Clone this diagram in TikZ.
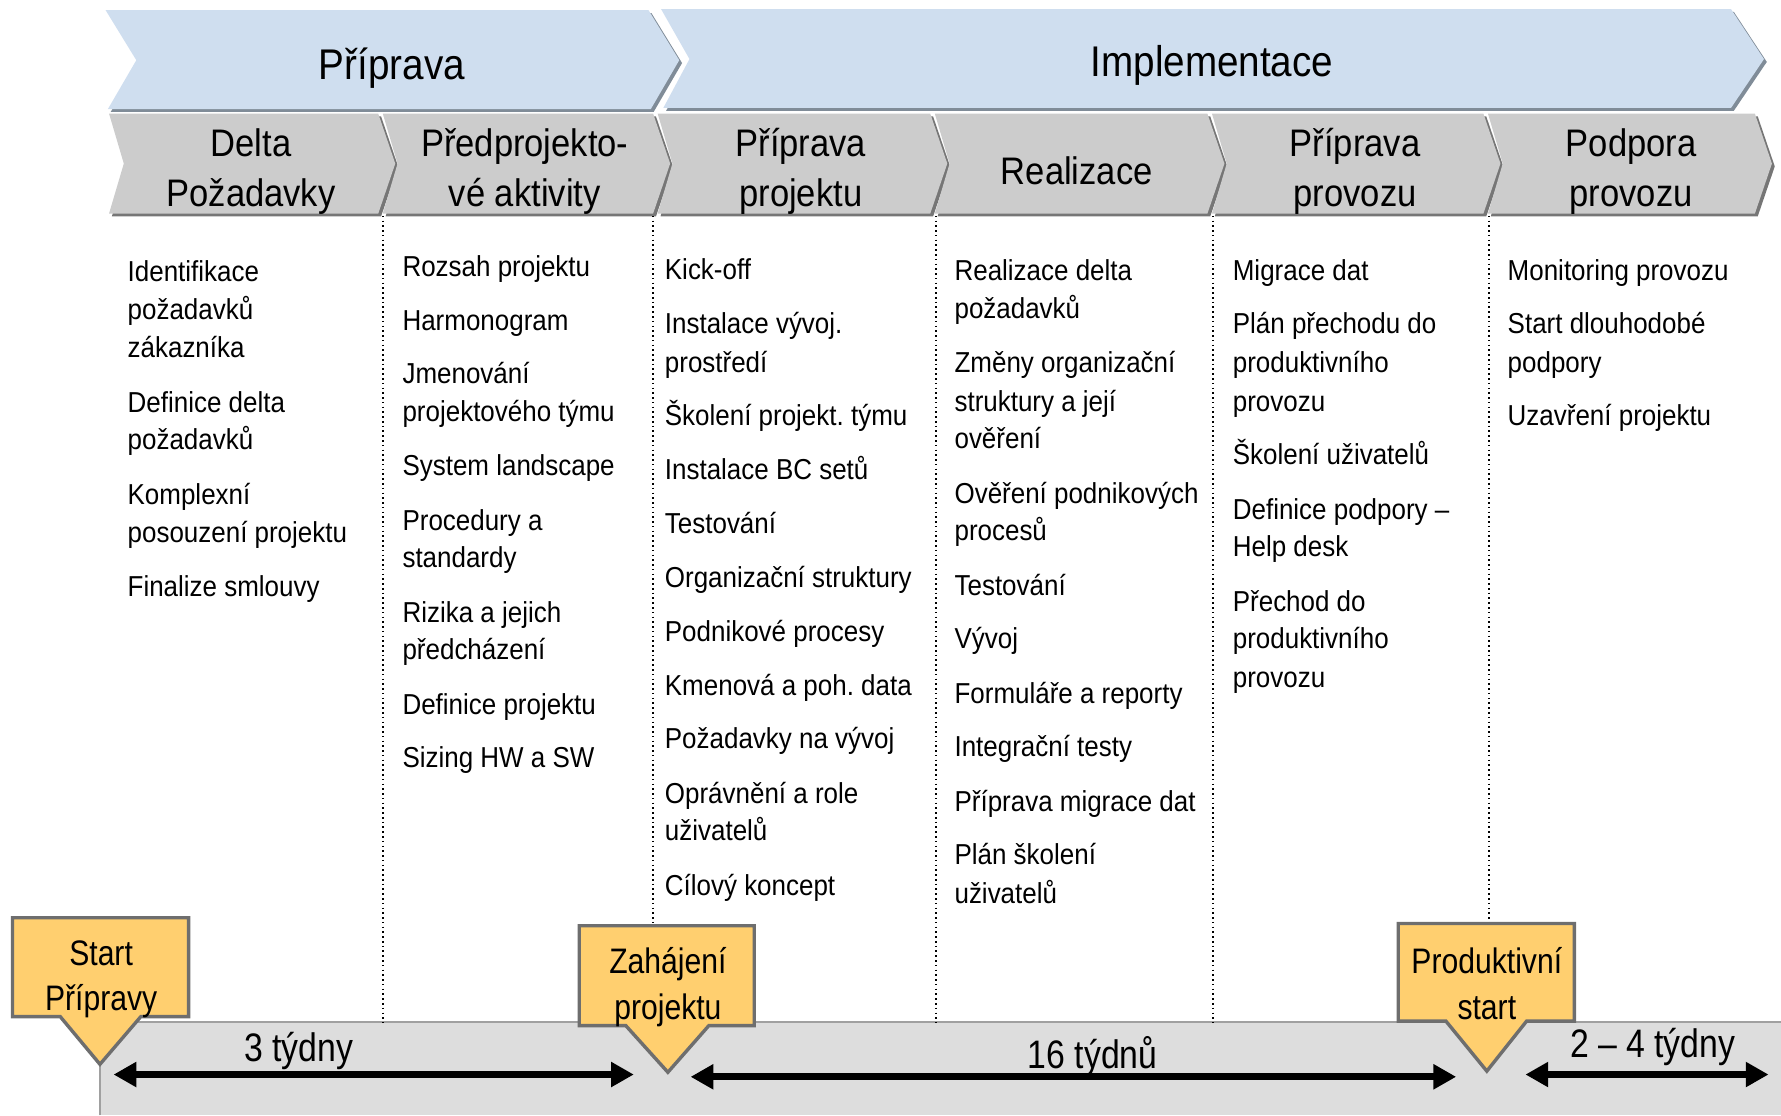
\documentclass[tikz,border=0pt]{standalone}
\usepackage{fontspec}
\setmainfont{Liberation Sans}[FakeStretch=0.9]
\newfontfamily\condfont{Liberation Sans}[FakeStretch=0.85]
\usetikzlibrary{arrows.meta}
\frenchspacing
\definecolor{hdrblue}{RGB}{207,222,239}
\definecolor{hdrshadow}{RGB}{128,140,152}
\definecolor{phasegray}{RGB}{204,204,204}
\definecolor{phaseshadow}{RGB}{118,118,118}
\definecolor{bandgray}{RGB}{221,221,221}
\definecolor{bandline}{RGB}{160,160,160}
\definecolor{msyellow}{RGB}{255,207,111}
\definecolor{msborder}{RGB}{110,110,110}
\newcommand\phasechev[2]{%
  \fill[phaseshadow] ([shift={(2.5,2.5)}]#1,100) -- ([shift={(2.5,2.5)}]#2,100) -- ([shift={(2.5,2.5)}]#2+15,144) -- ([shift={(2.5,2.5)}]#2,188) -- ([shift={(2.5,2.5)}]#1,188) -- ([shift={(2.5,2.5)}]#1+13,144) -- cycle;
  \fill[phasegray] (#1,100) -- (#2,100) -- (#2+15,144) -- (#2,188) -- (#1,188) -- (#1+13,144) -- cycle;}
\begin{document}
\begin{tikzpicture}[x=0.5pt,y=-0.5pt,
  itemtext/.style={anchor=base west, inner sep=0pt, font=\fontsize{12.7}{17}\selectfont},
  phasetext/.style={align=center, inner sep=0pt, font=\fontsize{16.9}{22}\selectfont},
  titletext/.style={inner sep=0pt, font=\fontsize{18.9}{22}\selectfont},
  mstext/.style={align=center, inner sep=0pt, font=\condfont\fontsize{15.6}{20}\selectfont},
  durtext/.style={inner sep=0pt, font=\condfont\fontsize{17.5}{20}\selectfont},
  sepline/.style={line width=0.7pt, dash pattern=on 0.7pt off 1.4pt},
  durarrow/.style={line width=3.2pt, {Triangle[length=10pt,width=10.5pt]}-{Triangle[length=10pt,width=10.5pt]}},
  msbox/.style={fill=msyellow, draw=msborder, line width=1.5pt, line join=miter},
]
\useasboundingbox (0,0) rectangle (1568,982);

% bottom band
\fill[bandgray] (88,900) rectangle (1568,982);
\draw[bandline, line width=0.8pt] (88,982) -- (88,900) -- (1568,900);

% top blue chevrons
\fill[hdrshadow] (95.5,11.5) -- (573.5,11.5) -- (600.5,55.5) -- (575.5,98.5) -- (97.5,98.5) -- (122.5,55.5) -- cycle;
\fill[hdrblue] (93,9) -- (571,9) -- (598,53) -- (573,96) -- (95,96) -- (120,53) -- cycle;
\fill[hdrshadow] (584.5,10.5) -- (1526.5,10.5) -- (1555.5,54.5) -- (1526.5,97.5) -- (586.5,97.5) -- (609.5,54.5) -- cycle;
\fill[hdrblue] (582,8) -- (1524,8) -- (1553,52) -- (1524,95) -- (584,95) -- (607,52) -- cycle;
\node[titletext] (tprip) at (345,60) {Příprava};
\node[titletext] (timpl) at (1067,58) {Implementace};

% phase chevrons
\phasechev{96}{333}
\phasechev{337}{575}
\phasechev{579}{819}
\phasechev{823}{1063}
\phasechev{1067}{1306}
\phasechev{1310}{1545}
\node[phasetext] (p1) at (221,151) {Delta\\Požadavky};
\node[phasetext] (p2) at (462,151) {Předprojekto-\\vé aktivity};
\node[phasetext] (p3) at (705,151) {Příprava\\projektu};
\node[phasetext] (p4) at (948,150) {Realizace};
\node[phasetext] (p5) at (1193,151) {Příprava\\provozu};
\node[phasetext] (p6) at (1436,151) {Podpora\\provozu};

% separators
\draw[sepline] (337,190) -- (337,900);
\draw[sepline] (575,190) -- (575,815);
\draw[sepline] (824,190) -- (824,900);
\draw[sepline] (1068,190) -- (1068,900);
\draw[sepline] (1311,190) -- (1311,813);

% activity lists
\foreach \yy/\tt [count=\i] in {240/Identifikace,273/požadavků,307/zákazníka,355/Definice delta,388/požadavků,436/Komplexní,470/posouzení projektu,517/Finalize smlouvy}
  \node[itemtext] (ca\i) at (112,{\yy+8}) {\tt};
\foreach \yy/\tt [count=\i] in {235/Rozsah projektu,283/Harmonogram,330/Jmenování,363/projektového týmu,411/System landscape,459/Procedury a,492/standardy,540/Rizika a jejich,573/předcházení,621/Definice projektu,668/Sizing HW a SW}
  \node[itemtext] (cb\i) at (354,{\yy+8}) {\tt};
\foreach \yy/\tt [count=\i] in {238/Kick-off,286/Instalace vývoj.,320/prostředí,367/Školení projekt. týmu,414/Instalace BC setů,462/Testování,509/Organizační struktury,557/Podnikové procesy,604/Kmenová a poh. data,651/Požadavky na vývoj,699/Oprávnění a role,732/uživatelů,780/Cílový koncept}
  \node[itemtext] (cc\i) at (585,{\yy+8}) {\tt};
\foreach \yy/\tt [count=\i] in {239/Realizace delta,272/požadavků,320/Změny organizační,354/struktury a její,387/ověření,435/Ověření podnikových,468/procesů,516/Testování,563/Vývoj,611/Formuláře a reporty,658/Integrační testy,706/Příprava migrace dat,753/Plán školení,787/uživatelů}
  \node[itemtext] (cd\i) at (840,{\yy+8}) {\tt};
\foreach \yy/\tt [count=\i] in {239/Migrace dat,286/Plán přechodu do,320/produktivního,354/provozu,401/Školení uživatelů,449/Definice podpory –,482/Help desk,530/Přechod do,563/produktivního,597/provozu}
  \node[itemtext] (ce\i) at (1085,{\yy+8}) {\tt};
\foreach \yy/\tt [count=\i] in {239/Monitoring provozu,286/Start dlouhodobé,320/podpory,367/Uzavření projektu}
  \node[itemtext] (cf\i) at (1327,{\yy+8}) {\tt};

% milestones
\draw[msbox] (11,808) -- (166,808) -- (166,895) -- (124,895) -- (88,937) -- (53,895) -- (11,895) -- cycle;
\node[mstext] (ms1) at (89,862) {Start\\Přípravy};
\draw[msbox] (510,815) -- (664,815) -- (664,903) -- (624,903) -- (588,944) -- (551,903) -- (510,903) -- cycle;
\node[mstext] (ms2) at (588,869) {Zahájení\\projektu};
\draw[msbox] (1231,813) -- (1386,813) -- (1386,899) -- (1344,899) -- (1309,943) -- (1273,899) -- (1231,899) -- cycle;
\node[mstext] (ms3) at (1309,866) {Produktivní\\start};

% durations
\coordinate (a1l) at (100,946);
\coordinate (a1r) at (558,946);
\coordinate (a2l) at (608,948);
\coordinate (a2r) at (1282,948);
\coordinate (a3l) at (1343,946);
\coordinate (a3r) at (1557,946);
\draw[durarrow] (a1l) -- (a1r);
\draw[durarrow] (a2l) -- (a2r);
\draw[durarrow] (a3l) -- (a3r);
\node[durtext] (d1) at (263,925) {3 týdny};
\node[durtext] (d2) at (962,930) {16 týdnů};
\node[durtext] (d3) at (1455,922) {2 – 4 týdny};
\end{tikzpicture}
\end{document}
